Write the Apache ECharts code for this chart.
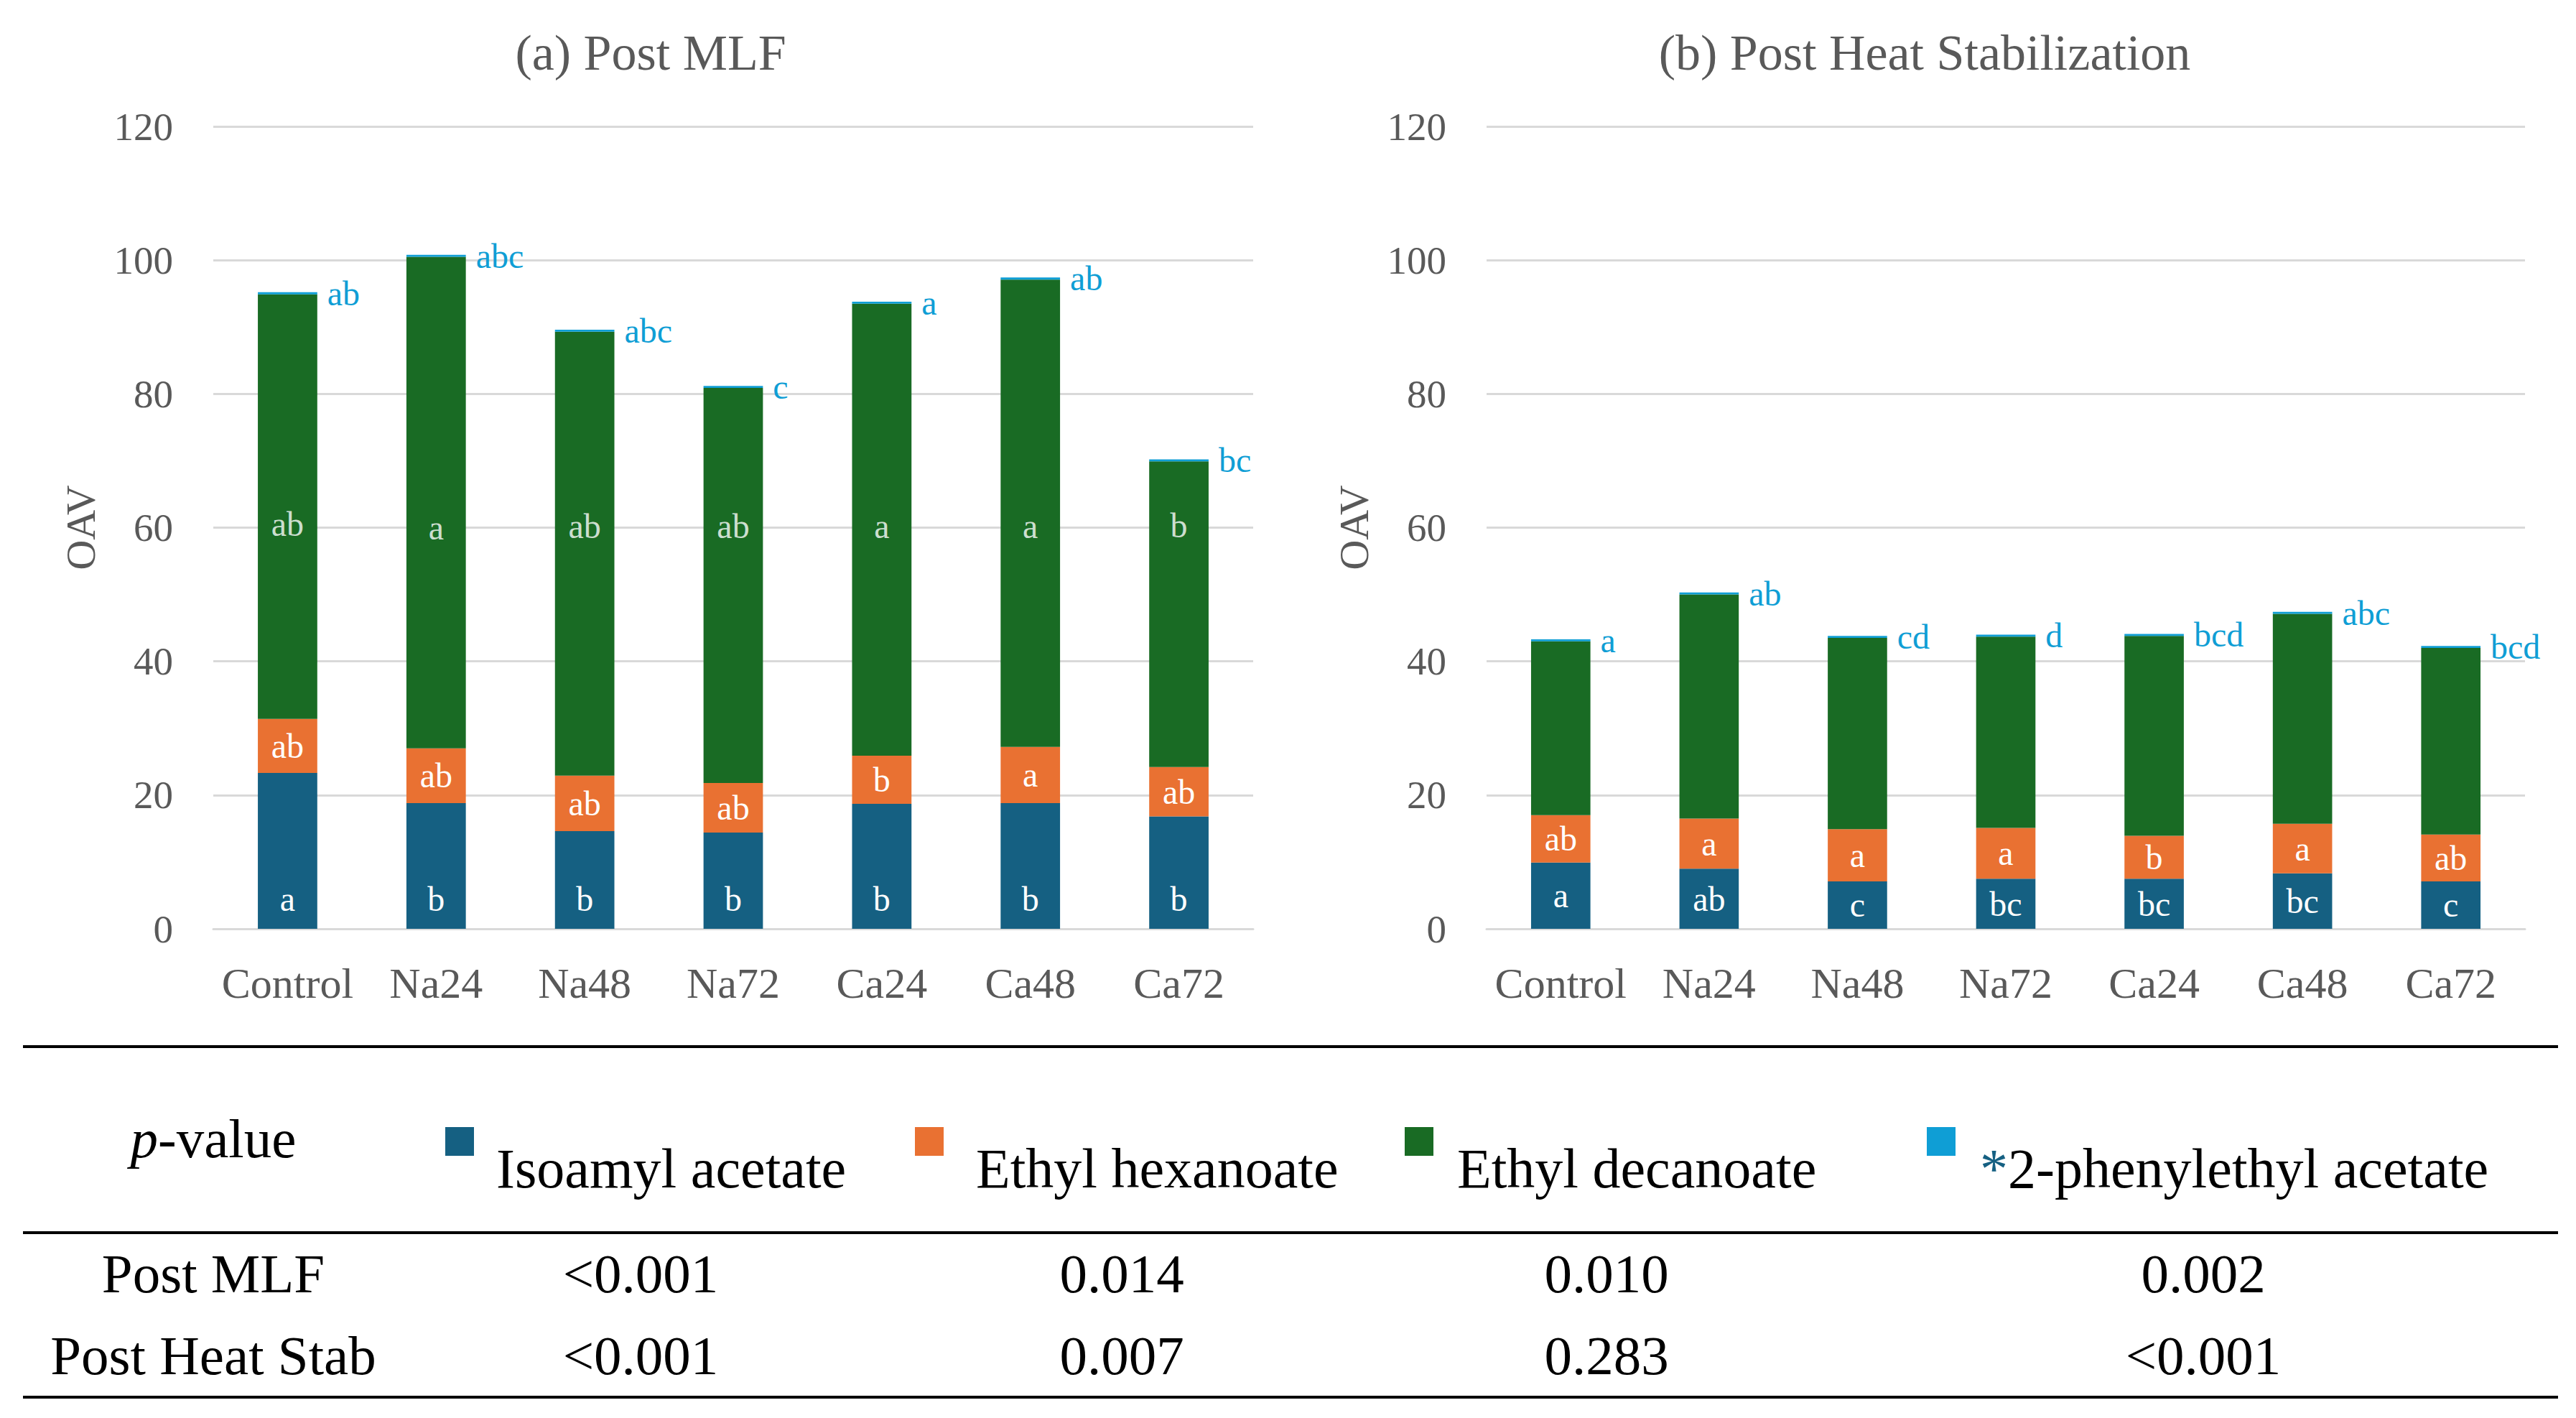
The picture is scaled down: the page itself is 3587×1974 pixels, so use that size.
<!DOCTYPE html>
<html lang="en">
<head>
    <meta charset="UTF-8">
    <title>OAV of esters</title>
    <style>
        body { margin: 0; background: #fff; font-family: "Liberation Serif", serif; }
        #chart { position: absolute; left: 0; top: 0; width: 3587px; height: 1440px; }
        .rule { position: absolute; left: 32px; width: 3530px; height: 4px; background: #000; }
        .cell { position: absolute; font-size: 77px; line-height: 1; color: #000; white-space: nowrap; transform: translate(-50%, -50%); }
        .key { position: absolute; width: 40px; height: 40px; }
        .ktext { position: absolute; font-size: 78px; line-height: 1; color: #000; white-space: nowrap; transform: translateY(-50%); }
    </style>
</head>
<body>
    <div id="chart"></div>
    <div id="table"></div>

    <script src="https://cdn.jsdelivr.net/npm/echarts@6/dist/echarts.min.js"></script>
    <script>
        var categories = ['Control', 'Na24', 'Na48', 'Na72', 'Ca24', 'Ca48', 'Ca72'];
        var compounds = ['Isoamyl acetate', 'Ethyl hexanoate', 'Ethyl decanoate', '2-phenylethyl acetate'];
        var colors = ['#156082', '#E97132', '#196B24', '#0F9ED5'];

        // (a) Post MLF - stacked segment values
        var mlfIsoamyl = [23.3, 18.8, 14.6, 14.4, 18.7, 18.8, 16.8];
        var mlfHexanoate = [8.1, 8.2, 8.3, 7.4, 7.2, 8.4, 7.4];
        var mlfDecanoate = [63.5, 73.5, 66.4, 59.1, 67.6, 69.9, 45.7];
        var mlfPhenyl = [0.3, 0.3, 0.3, 0.3, 0.3, 0.3, 0.3];

        // (b) Post heat stabilization
        var heatIsoamyl = [9.9, 9.0, 7.1, 7.5, 7.5, 8.3, 7.1];
        var heatHexanoate = [7.1, 7.5, 7.8, 7.6, 6.4, 7.4, 7.0];
        var heatDecanoate = [26.0, 33.5, 28.6, 28.6, 29.9, 31.4, 27.9];
        var heatPhenyl = [0.3, 0.3, 0.3, 0.3, 0.3, 0.3, 0.3];

        // significance letters
        var mlfIsoLetters = ['a', 'b', 'b', 'b', 'b', 'b', 'b'];
        var mlfHexLetters = ['ab', 'ab', 'ab', 'ab', 'b', 'a', 'ab'];
        var mlfDecLetters = ['ab', 'a', 'ab', 'ab', 'a', 'a', 'b'];
        var mlfPhenLetters = ['ab', 'abc', 'abc', 'c', 'a', 'ab', 'bc'];
        var mlfDecLabelAt = [60.5, 60, 60.2, 60.2, 60.2, 60.2, 60.3];

        var heatIsoLetters = ['a', 'ab', 'c', 'bc', 'bc', 'bc', 'c'];
        var heatHexLetters = ['ab', 'a', 'a', 'a', 'b', 'a', 'ab'];
        var heatPhenLetters = ['a', 'ab', 'cd', 'd', 'bcd', 'abc', 'bcd'];

        // p-value table
        var pRows = ['Post MLF', 'Post Heat Stab'];
        var pMLF = ['<0.001', '0.014', '0.010', '0.002'];
        var pHeat = ['<0.001', '0.007', '0.283', '<0.001'];

        var FONT = 'Liberation Serif';

        function bar(idx, name, data, color, letters, pos, dist, labelColor) {
            return {
                name: name,
                type: 'bar',
                xAxisIndex: idx,
                yAxisIndex: idx,
                stack: 'g' + idx,
                barWidth: '40%',
                data: data,
                itemStyle: { color: color },
                label: {
                    show: !!letters,
                    position: pos,
                    distance: dist,
                    color: labelColor || '#fff',
                    fontSize: 48,
                    fontFamily: FONT,
                    formatter: function (p) { return letters ? letters[p.dataIndex] : ''; }
                }
            };
        }

        function xAx(idx) {
            return {
                type: 'category', gridIndex: idx, data: categories,
                axisLine: { lineStyle: { color: '#D9D9D9', width: 3 } },
                axisTick: { show: false },
                axisLabel: { interval: 0, fontSize: 60, color: '#595959', margin: 46, fontFamily: FONT }
            };
        }

        function yAx(idx) {
            return {
                type: 'value', gridIndex: idx, min: 0, max: 120, interval: 20,
                axisLine: { show: false }, axisTick: { show: false },
                axisLabel: { fontSize: 55, color: '#595959', margin: 56, fontFamily: FONT },
                splitLine: { lineStyle: { color: '#D9D9D9', width: 3 } },
                name: 'OAV', nameLocation: 'middle', nameGap: 156,
                nameTextStyle: { fontSize: 58, color: '#595959', fontFamily: FONT }
            };
        }

        var chart = echarts.init(document.getElementById('chart'), null, { renderer: 'svg' });
        chart.setOption({
            animation: false,
            grid: [
                { left: 297, top: 176, width: 1448, height: 1117 },
                { left: 2070, top: 176, width: 1446, height: 1117 }
            ],
            xAxis: [xAx(0), xAx(1)],
            yAxis: [yAx(0), yAx(1)],
            graphic: [
                { type: 'text', style: { x: 906, y: 73, text: '(a) Post MLF', textAlign: 'center', textVerticalAlign: 'middle', font: '70px "Liberation Serif"', fill: '#595959' } },
                { type: 'text', style: { x: 2680, y: 73, text: '(b) Post Heat Stabilization', textAlign: 'center', textVerticalAlign: 'middle', font: '70px "Liberation Serif"', fill: '#595959' } }
            ],
            series: [
                bar(0, compounds[0], mlfIsoamyl, colors[0], mlfIsoLetters, 'insideBottom', 18),
                bar(0, compounds[1], mlfHexanoate, colors[1], mlfHexLetters, 'inside', 0),
                bar(0, compounds[2], mlfDecanoate, colors[2], null, 'inside', 0),
                bar(0, compounds[3], mlfPhenyl, colors[3], mlfPhenLetters, 'right', 14, colors[3]),
                {
                    type: 'scatter', xAxisIndex: 0, yAxisIndex: 0, symbolSize: 0, z: 5,
                    data: mlfDecLabelAt,
                    label: {
                        show: true, position: 'inside', color: '#fff', fontSize: 48, fontFamily: FONT,
                        formatter: function (p) { return mlfDecLetters[p.dataIndex]; }
                    }
                },
                bar(1, compounds[0], heatIsoamyl, colors[0], heatIsoLetters, 'inside', 0),
                bar(1, compounds[1], heatHexanoate, colors[1], heatHexLetters, 'inside', 0),
                bar(1, compounds[2], heatDecanoate, colors[2], null, 'inside', 0),
                bar(1, compounds[3], heatPhenyl, colors[3], heatPhenLetters, 'right', 14, colors[3])
            ]
        });

        // table with legend and p-values
        var tbl = document.getElementById('table');
        var colX = [892, 1562, 2237, 3068];
        var keyX = [620, 1274, 1956, 2683];
        var keyTextX = [691, 1359, 2029, 2757];
        var html = '';
        [1457, 1716, 1945].forEach(function (y) {
            html += '<div class="rule" style="top:' + (y - 2) + 'px"></div>';
        });
        html += '<div class="cell" style="left:297px;top:1585px"><i>p</i>-value</div>';
        for (var i = 0; i < compounds.length; i++) {
            html += '<div class="key" style="left:' + keyX[i] + 'px;top:1569px;background:' + colors[i] + '"></div>';
            var txt = compounds[i];
            if (i === 3) txt = '<span style="color:#156082">*</span>' + txt;
            html += '<div class="ktext" style="left:' + keyTextX[i] + 'px;top:1627px">' + txt + '</div>';
        }
        var rowY = [1773, 1887];
        var rowVals = [pMLF, pHeat];
        for (var r = 0; r < pRows.length; r++) {
            html += '<div class="cell" style="left:297px;top:' + rowY[r] + 'px">' + pRows[r] + '</div>';
            for (var c = 0; c < colX.length; c++) {
                html += '<div class="cell" style="left:' + colX[c] + 'px;top:' + rowY[r] + 'px">' +
                    rowVals[r][c].replace('<', '&lt;') + '</div>';
            }
        }
        tbl.innerHTML = html;
    </script>
</body>
</html>
